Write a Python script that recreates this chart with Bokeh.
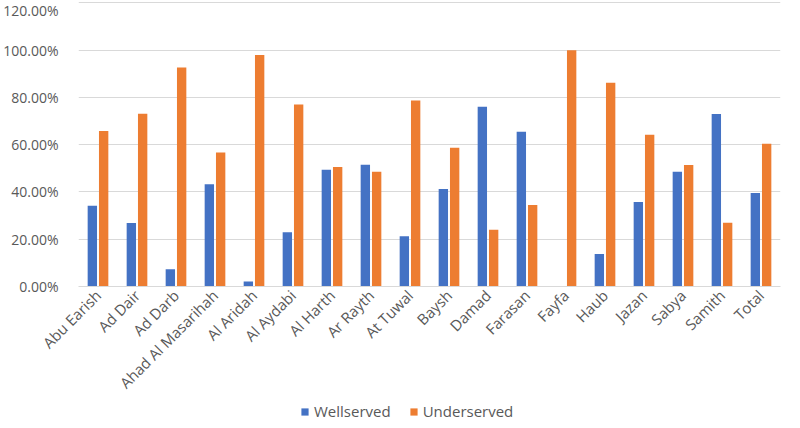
from bokeh.plotting import figure
from bokeh.models import ColumnDataSource, FactorRange, Range1d, NumeralTickFormatter, FixedTicker, Legend, LegendItem
from bokeh.layouts import column
from bokeh.transform import dodge
from bokeh.embed import file_html
from bokeh.resources import INLINE
import math

categories = ["Abu Earish", "Ad Dair", "Ad Darb", "Ahad Al Masarihah", "Al Aridah", "Al Aydabi",
              "Al Harth", "Ar Rayth", "At Tuwal", "Baysh", "Damad", "Farasan", "Fayfa",
              "Haub", "Jazan", "Sabya", "Samith", "Total"]
wellserved = [0.342, 0.269, 0.073, 0.433, 0.021, 0.230, 0.494, 0.515, 0.213, 0.413, 0.760,
              0.655, 0.0, 0.138, 0.358, 0.486, 0.730, 0.396]
underserved = [0.658, 0.731, 0.927, 0.567, 0.979, 0.770, 0.506, 0.485, 0.787, 0.587, 0.240,
               0.345, 1.0, 0.862, 0.642, 0.514, 0.270, 0.604]
series_names = ["Wellserved", "Underserved"]
y_ticks = [0.0, 0.2, 0.4, 0.6, 0.8, 1.0, 1.2]

FONT = "Open Sans"
BLUE, ORANGE = "#4472C4", "#ED7D31"
src = ColumnDataSource(dict(cat=categories, well=wellserved, under=underserved))

p = figure(x_range=FactorRange(*categories), y_range=Range1d(0, 1.21),
           width=792, height=402, output_backend="svg", toolbar_location=None,
           min_border_left=65, min_border_right=12, min_border_top=0, min_border_bottom=110)
p.outline_line_color = None

p.vbar(x=dodge("cat", -0.145, range=p.x_range), top="well", width=0.24, source=src,
       fill_color=BLUE, line_color=None)
p.vbar(x=dodge("cat", 0.145, range=p.x_range), top="under", width=0.24, source=src,
       fill_color=ORANGE, line_color=None)

p.yaxis.ticker = FixedTicker(ticks=y_ticks)
p.yaxis.formatter = NumeralTickFormatter(format="0.00%")
p.yaxis.axis_line_color = None
p.yaxis.major_tick_line_color = None
p.yaxis.minor_tick_line_color = None
p.yaxis.major_label_text_font = FONT
p.yaxis.major_label_text_font_size = "14px"
p.yaxis.major_label_text_color = "#595959"
p.yaxis.major_label_standoff = 14

p.xaxis.axis_line_color = "#D9D9D9"
p.xaxis.major_tick_line_color = None
p.xaxis.minor_tick_line_color = None
p.xaxis.major_tick_out = 0
p.xaxis.major_tick_in = 0
p.xaxis.major_label_orientation = math.pi / 4
p.xaxis.major_label_text_font = FONT
p.xaxis.major_label_text_font_size = "15px"
p.xaxis.major_label_text_color = "#595959"
p.xaxis.major_label_standoff = 6

p.xgrid.grid_line_color = None
p.ygrid.grid_line_color = "#D9D9D9"
p.ygrid.ticker = FixedTicker(ticks=y_ticks)

# legend row
lf = figure(width=792, height=18, output_backend="svg", toolbar_location=None,
            min_border_left=0, min_border_right=0, min_border_top=0, min_border_bottom=0,
            x_range=Range1d(0, 1), y_range=Range1d(0, 1))
lf.outline_line_color = None
lf.axis.visible = False
lf.grid.visible = False
hidden = ColumnDataSource(dict(x=[0.5], top=[0.0]))
d1 = lf.vbar(x="x", top="top", bottom=0, width=0.0, source=hidden, fill_color=BLUE, line_color=None)
d2 = lf.vbar(x="x", top="top", bottom=0, width=0.0, source=hidden, fill_color=ORANGE, line_color=None)
legend = Legend(items=[LegendItem(label=series_names[0], renderers=[d1]),
                       LegendItem(label=series_names[1], renderers=[d2])],
                orientation="horizontal", location=(222, -1),
                label_text_font=FONT, label_text_font_size="15px", label_text_color="#595959",
                glyph_width=9, glyph_height=9, spacing=18, border_line_color=None,
                background_fill_alpha=0, margin=0, padding=0, label_standoff=5)
lf.add_layout(legend, "center")

layout = column(p, lf, spacing=0)
open("out.html", "w").write(file_html(layout, INLINE))
